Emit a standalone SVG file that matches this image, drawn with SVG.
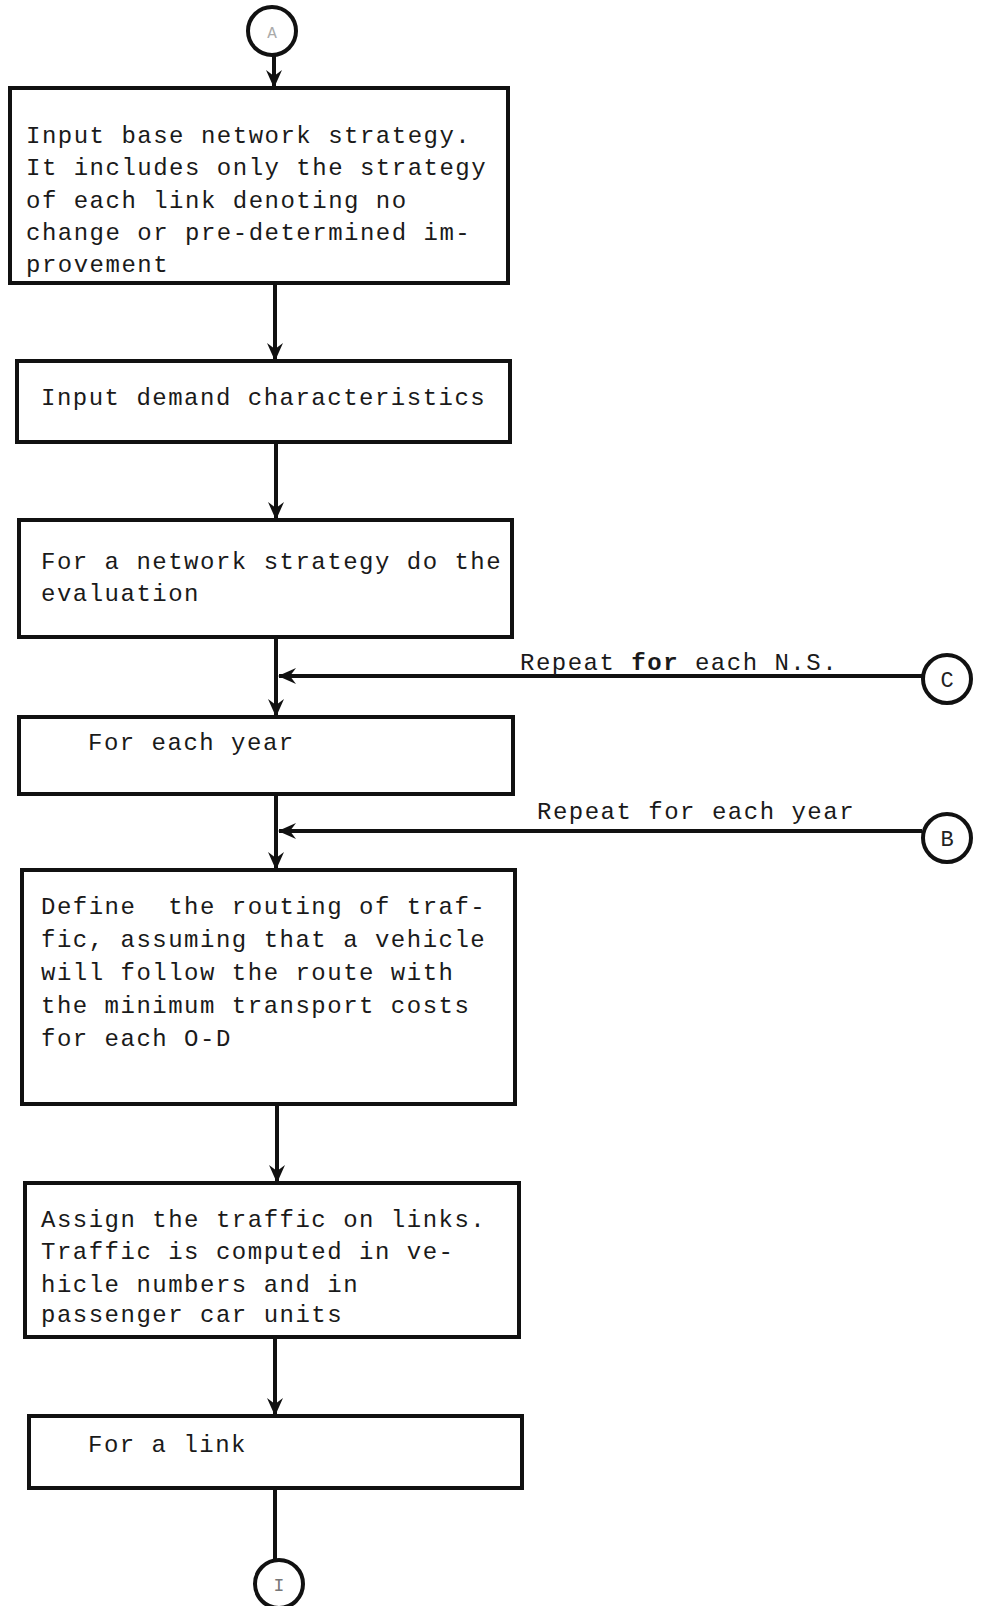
<svg xmlns="http://www.w3.org/2000/svg" width="982" height="1606" viewBox="0 0 982 1606">
<style>
.box{fill:#fff;stroke:#111;stroke-width:4}
.ln{fill:none;stroke:#111;stroke-width:4}
.t{font-family:"Liberation Mono",monospace;font-size:24px;letter-spacing:1.5px;fill:#1a1a1a}
.c{fill:#fff;stroke:#111;stroke-width:4}
.cl{font-family:"Liberation Mono",monospace;font-size:22px;fill:#222;text-anchor:middle}
</style>
<defs>
<marker id="ah" viewBox="0 0 18 18" markerWidth="18" markerHeight="18" refX="17" refY="9" orient="auto" markerUnits="userSpaceOnUse">
<path d="M0,1 L18,9 L0,17 L6,9 z" fill="#111"/>
</marker>
</defs>
<rect width="982" height="1606" fill="#fff"/>
<g id="connectors">
<line class="ln" x1="274" y1="55" x2="274" y2="87" marker-end="url(#ah)"/>
<line class="ln" x1="275" y1="283" x2="275" y2="360" marker-end="url(#ah)"/>
<line class="ln" x1="276" y1="442" x2="276" y2="519" marker-end="url(#ah)"/>
<line class="ln" x1="276" y1="637" x2="276" y2="716" marker-end="url(#ah)"/>
<line class="ln" x1="922" y1="676" x2="279" y2="676" marker-end="url(#ah)"/>
<line class="ln" x1="276" y1="794" x2="276" y2="869" marker-end="url(#ah)"/>
<line class="ln" x1="922" y1="831" x2="279" y2="831" marker-end="url(#ah)"/>
<line class="ln" x1="277" y1="1104" x2="277" y2="1182" marker-end="url(#ah)"/>
<line class="ln" x1="275" y1="1337" x2="275" y2="1415" marker-end="url(#ah)"/>
<line class="ln" x1="275" y1="1488" x2="275" y2="1560"/>
<text class="t" x="520" y="670">Repeat <tspan font-weight="bold">for</tspan> each N.S.</text>
<text class="t" x="537" y="819">Repeat for each year</text>
</g>
<g id="conA">
<circle class="c" cx="272" cy="31" r="24"/>
<text class="cl" x="272" y="38" style="fill:#aaa;font-size:16px">A</text>
</g>
<g id="n1">
<rect class="box" x="10" y="88" width="498" height="195"/>
<text class="t" x="26" y="143">Input base network strategy.</text>
<text class="t" x="26" y="175">It includes only the strategy</text>
<text class="t" x="26" y="208">of each link denoting no</text>
<text class="t" x="26" y="240">change or pre-determined im-</text>
<text class="t" x="26" y="272">provement</text>
</g>
<g id="n2">
<rect class="box" x="17" y="361" width="493" height="81"/>
<text class="t" x="41" y="405">Input demand characteristics</text>
</g>
<g id="n3">
<rect class="box" x="19" y="520" width="493" height="117"/>
<text class="t" x="41" y="569">For a network strategy do the</text>
<text class="t" x="41" y="601">evaluation</text>
</g>
<g id="n4">
<rect class="box" x="19" y="717" width="494" height="77"/>
<text class="t" x="88" y="750">For each year</text>
</g>
<g id="conC">
<circle class="c" cx="947" cy="679" r="24"/>
<text class="cl" x="947" y="687">C</text>
</g>
<g id="conB">
<circle class="c" cx="947" cy="838" r="24"/>
<text class="cl" x="947" y="846">B</text>
</g>
<g id="n5">
<rect class="box" x="22" y="870" width="493" height="234"/>
<text class="t" x="41" y="914" xml:space="preserve" style="white-space:pre">Define  the routing of traf-</text>
<text class="t" x="41" y="947">fic, assuming that a vehicle</text>
<text class="t" x="41" y="980">will follow the route with</text>
<text class="t" x="41" y="1013">the minimum transport costs</text>
<text class="t" x="41" y="1046">for each O-D</text>
</g>
<g id="n6">
<rect class="box" x="25" y="1183" width="494" height="154"/>
<text class="t" x="41" y="1227">Assign the traffic on links.</text>
<text class="t" x="41" y="1259">Traffic is computed in ve-</text>
<text class="t" x="41" y="1292">hicle numbers and in</text>
<text class="t" x="41" y="1322">passenger car units</text>
</g>
<g id="n7">
<rect class="box" x="29" y="1416" width="493" height="72"/>
<text class="t" x="88" y="1452">For a link</text>
</g>
<g id="conI">
<circle class="c" cx="279" cy="1584" r="24"/>
<text class="cl" x="279" y="1591" style="fill:#777;font-size:18px">I</text>
</g>
</svg>
